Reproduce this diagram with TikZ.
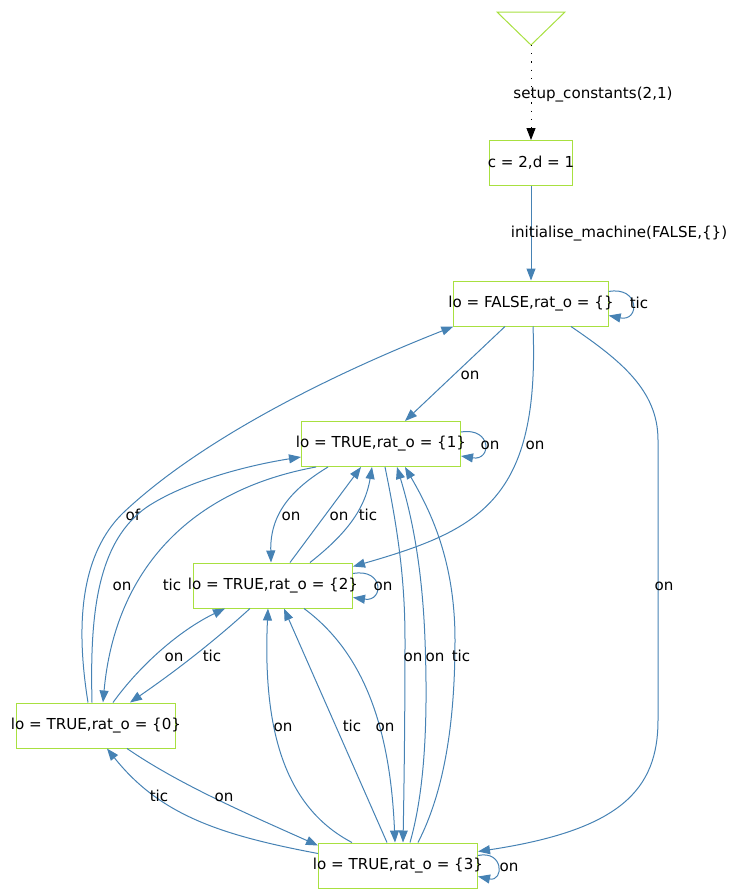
\documentclass[tikz,border=0pt]{standalone}
\usepackage{fontspec}
\setmainfont{DejaVu Sans}
\usetikzlibrary{arrows.meta}
\definecolor{stategreen}{HTML}{A8E040}
\definecolor{edgeblue}{HTML}{4682B4}

\begin{document}
\begin{tikzpicture}[x=1pt, y=-1pt, font=\fontsize{15.1}{18}\selectfont,
  state/.style={draw=stategreen, line width=1pt, minimum height=45pt, inner xsep=-5.5pt},
  trans/.style={edgeblue, line width=1pt, -{Triangle[length=12pt,width=9pt]}},
  dotarrow/.style={black, line width=1pt, dash pattern=on 1.2pt off 7pt, -{Triangle[length=12pt,width=9pt]}},
  lbl/.style={anchor=base, inner sep=0pt, text=black}]
\useasboundingbox (0,0) rectangle (731,889);

% states
\draw[stategreen, line width=1pt] (497,12) -- (565,12) -- (531,45) -- cycle;
\coordinate (init) at (531,45);
\node[state, inner xsep=-1.5pt] (c) at (531,163) {c = 2,d = 1};
\node[state] (F) at (531,303.5) {lo = FALSE,rat\_o = \{\}};
\node[state] (S1) at (381,444) {lo = TRUE,rat\_o = \{1\}};
\node[state] (S2) at (273,585.5) {lo = TRUE,rat\_o = \{2\}};
\node[state] (S0) at (96,725.5) {lo = TRUE,rat\_o = \{0\}};
\node[state] (S3) at (398,865.5) {lo = TRUE,rat\_o = \{3\}};

% setup and init
\draw[dotarrow] (init) -- (c.north) node[lbl] at (593,98) {setup\_constants(2,1)};
\draw[trans] (c.south) -- (F.north) node[lbl] at (619,237) {initialise\_machine(FALSE,\{\})};

% from F
\draw[trans] ([yshift=12pt]F.east) .. controls (640,286) and (640,322) .. ([yshift=-12pt]F.east) node[lbl] at (639,308) {tic};
\draw[trans] ([xshift=-26pt]F.south) -- ([xshift=24pt]S1.north) node[lbl] at (470,379) {on};
\draw[trans] ([xshift=2pt]F.south) .. controls (540,500) and (480,530) .. ([yshift=19pt]S2.east) node[lbl] at (535,449) {on};
\draw[trans] ([xshift=40pt]F.south) .. controls (620,360) and (658,390) .. (658,440) -- (658,720) .. controls (658,790) and (620,830) .. ([yshift=14pt]S3.east) node[lbl] at (664,590) {on};

% from S0
\draw[trans] ([xshift=-8pt]S0.north) .. controls (78,640) and (75,560) .. (123,513) .. controls (200,440) and (330,375) .. (F.south west) node[lbl] at (133,520) {of};
\draw[trans] ([xshift=-4pt]S0.north) .. controls (90,620) and (95,540) .. (150,505) .. controls (190,480) and (250,465) .. ([yshift=-13pt]S1.west) node[lbl] at (122,590) {on};
\draw[trans] ([xshift=17pt]S0.north) .. controls (140,665) and (180,630) .. ([xshift=-48pt]S2.south) node[lbl] at (174,661) {on};
\draw[trans] ([xshift=31pt]S0.south) .. controls (180,785) and (250,815) .. ([yshift=20pt]S3.west) node[lbl] at (224,801) {on};

% from S1
\draw[trans] ([yshift=12pt]S1.east) .. controls (492,427) and (492,461) .. ([yshift=-12pt]S1.east) node[lbl] at (490,449) {on};
\draw[trans] ([xshift=-65pt]S1.south) .. controls (190,490) and (115,570) .. ([xshift=7pt]S0.north) node[lbl] at (172,590) {tic};
\draw[trans] ([xshift=-53pt]S1.south) .. controls (290,490) and (270,515) .. ([xshift=-2pt]S2.north) node[lbl] at (291,520) {on};
\draw[trans] ([xshift=4pt]S1.south) .. controls (398,530) and (405,580) .. (405,640) .. controls (405,720) and (404,790) .. ([xshift=5pt]S3.north) node[lbl] at (413,661) {on};

% from S2
\draw[trans] ([xshift=17pt]S2.north) -- ([xshift=-20pt]S1.south) node[lbl] at (339,520) {on};
\draw[trans] ([xshift=37pt]S2.north) .. controls (345,535) and (365,510) .. ([xshift=-9pt]S1.south) node[lbl] at (368,520) {tic};
\draw[trans] ([yshift=12pt]S2.east) .. controls (384,568) and (384,602) .. ([yshift=-12pt]S2.east) node[lbl] at (383,590) {on};
\draw[trans] ([xshift=-23pt]S2.south) .. controls (210,645) and (170,675) .. ([xshift=34pt]S0.north) node[lbl] at (212,661) {tic};
\draw[trans] ([xshift=31pt]S2.south) .. controls (360,650) and (390,720) .. ([xshift=-3pt]S3.north) node[lbl] at (385,731) {on};

% from S3
\draw[trans] ([xshift=-46pt]S3.north) .. controls (290,810) and (262,740) .. ([xshift=-5pt]S2.south) node[lbl] at (283,731) {on};
\draw[trans] ([xshift=-11pt]S3.north) -- ([xshift=11pt]S2.south) node[lbl] at (352,731) {tic};
\draw[trans] ([xshift=12pt]S3.north) .. controls (425,790) and (428,720) .. (425,640) .. controls (422,560) and (410,510) .. ([xshift=16pt]S1.south) node[lbl] at (435,661) {on};
\draw[trans] ([xshift=20pt]S3.north) .. controls (445,790) and (455,720) .. (455,640) .. controls (455,560) and (430,510) .. ([xshift=24pt]S1.south) node[lbl] at (461,661) {tic};
\draw[trans] ([yshift=12pt]S3.west) .. controls (220,835) and (160,815) .. ([xshift=11pt]S0.south) node[lbl] at (159,801) {tic};
\draw[trans] ([yshift=10pt]S3.east) .. controls (504,850) and (504,882) .. ([yshift=-11pt]S3.east) node[lbl] at (509,871) {on};
\end{tikzpicture}
\end{document}
